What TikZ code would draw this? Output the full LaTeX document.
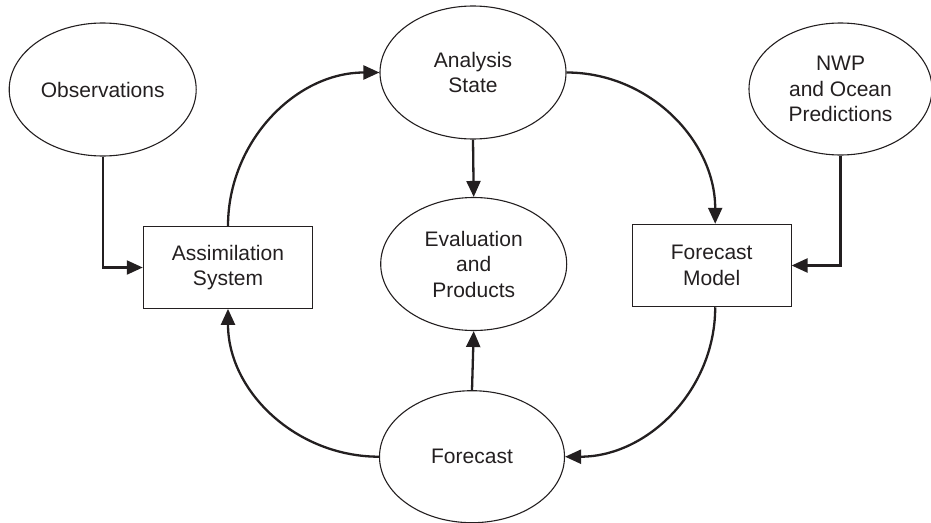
\documentclass[tikz,border=0pt]{standalone}
\usepackage{fontspec}
\setmainfont{Liberation Sans}
\usetikzlibrary{shapes.geometric,arrows.meta}
\definecolor{ink}{HTML}{231F20}
\tikzset{
  oval/.style={ellipse,draw=ink,line width=1.1pt,inner sep=0pt,align=center,text=ink,
    font=\fontsize{21}{25.5}\selectfont},
  boxnode/.style={rectangle,draw=ink,line width=1.1pt,inner sep=0pt,align=center,text=ink,
    font=\fontsize{21}{25.5}\selectfont},
  conn/.style={draw=ink,line width=2.3pt,-{Triangle[length=16pt,width=14pt]}},
}
\begin{document}
\begin{tikzpicture}[x=1pt,y=-1pt]
\useasboundingbox (0,0) rectangle (931,522);
\node[oval,minimum width=187pt,minimum height=133pt] (obs) at (102.7,89.5) {Observations};
\node[oval,minimum width=186pt,minimum height=133pt] (ana) at (473,72.5) {Analysis\\State};
\node[oval,minimum width=183pt,minimum height=132pt] (nwp) at (840.5,89) {NWP\\and Ocean\\Predictions};
\node[oval,minimum width=186pt,minimum height=133pt] (eva) at (473.7,264) {Evaluation\\and\\Products};
\node[oval,minimum width=185pt,minimum height=132pt] (fc) at (472,456.7) {Forecast};
\node[boxnode,minimum width=169.4pt,minimum height=81.6pt] (as) at (228,267.5) {Assimilation\\System};
\node[boxnode,minimum width=158.7pt,minimum height=82.4pt] (fm) at (711.7,265.5) {Forecast\\Model};

\draw[conn] (obs.south) |- (as.west);
\draw[conn] (nwp.south) |- (fm.east);
\draw[conn] (ana.south) -- (eva.north);
\draw[conn] (fc.north) -- (eva.south);
\draw[conn] (as.north) to[out=90,in=180] (ana.west);
\draw[conn] (ana.east) to[out=0,in=90] ([xshift=3.5pt]fm.north);
\draw[conn] ([xshift=3.5pt]fm.south) to[out=-90,in=0] (fc.east);
\draw[conn] (fc.west) to[out=180,in=-90] (as.south);
\end{tikzpicture}
\end{document}
